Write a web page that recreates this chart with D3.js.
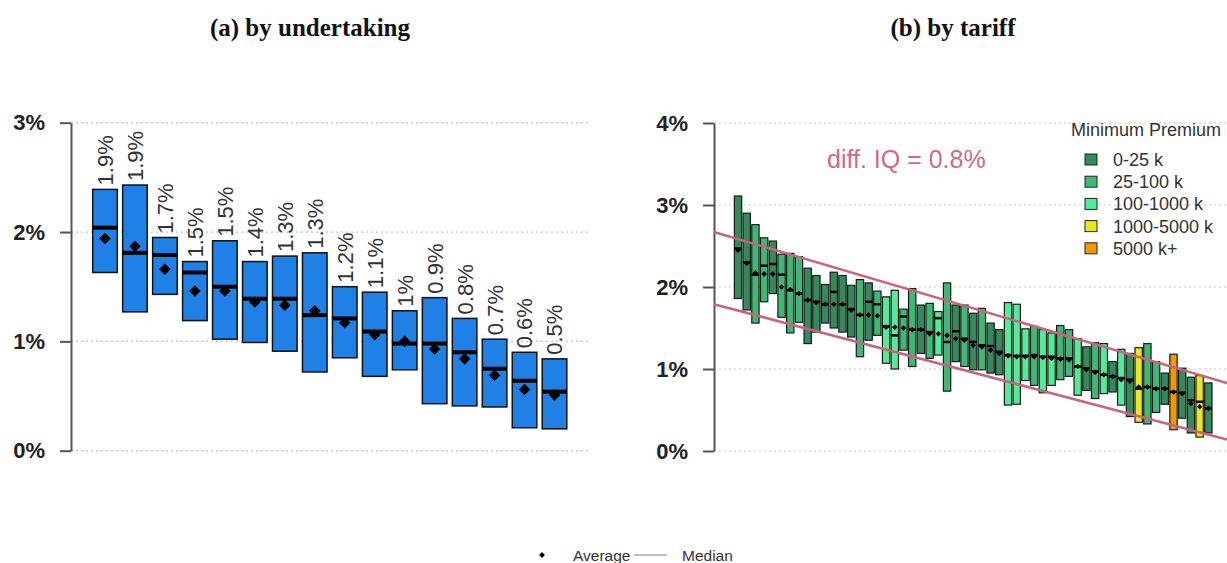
<!DOCTYPE html>
<html>
<head>
<meta charset="utf-8">
<script src="https://cdn.jsdelivr.net/npm/d3@7"></script>
<style>
  html, body { margin: 0; padding: 0; background: #fff; }
  svg { display: block; }
</style>
</head>
<body>
<svg id="chart" width="1227" height="563"></svg>
<script>
// ---- (a) by undertaking: interquartile boxes, medians and averages ----
const undertakings = d3.range(1, 17).map(i => "U" + i);
const undertakingQ3 = [2.39, 2.43, 1.95, 1.73, 1.92, 1.73, 1.78, 1.81, 1.50, 1.45, 1.28, 1.40, 1.21, 1.02, 0.90, 0.84];
const undertakingQ1 = [1.63, 1.27, 1.43, 1.19, 1.02, 0.99, 0.91, 0.72, 0.85, 0.68, 0.74, 0.43, 0.41, 0.40, 0.21, 0.20];
const undertakingMedian = [2.04, 1.81, 1.79, 1.63, 1.50, 1.39, 1.39, 1.24, 1.21, 1.09, 0.98, 0.98, 0.90, 0.75, 0.64, 0.54];
const undertakingMean = [1.94, 1.87, 1.66, 1.46, 1.46, 1.36, 1.33, 1.28, 1.17, 1.06, 1.00, 0.93, 0.84, 0.69, 0.56, 0.51];
const undertakingTicks = [0, 1, 2, 3];

// ---- (b) by tariff: interquartile boxes coloured by minimum premium band ----
const tariffs = d3.range(1, 56).map(i => "T" + i);
const tariffQ3 = [3.11, 2.90, 2.76, 2.60, 2.56, 2.40, 2.41, 2.37, 2.23, 2.14, 2.03, 2.18, 2.14, 2.02, 2.09, 2.05, 1.95, 1.88, 1.96, 1.73, 1.98, 1.78, 1.80, 1.70, 2.05, 1.78, 1.78, 1.68, 1.74, 1.56, 1.48, 1.81, 1.79, 1.49, 1.52, 1.48, 1.44, 1.53, 1.48, 1.37, 1.27, 1.32, 1.31, 1.09, 1.24, 1.19, 1.26, 1.31, 1.09, 0.95, 1.18, 1.01, 0.90, 0.92, 0.83];
const tariffQ1 = [1.86, 1.72, 1.56, 1.82, 1.92, 1.63, 1.44, 1.57, 1.31, 1.45, 1.56, 1.50, 1.45, 1.39, 1.15, 1.35, 1.41, 1.07, 1.00, 1.23, 1.03, 1.19, 1.13, 1.17, 0.73, 1.09, 1.03, 0.99, 0.99, 0.95, 0.93, 0.56, 0.57, 0.86, 0.80, 0.71, 0.80, 0.87, 0.91, 0.68, 0.74, 0.64, 0.70, 0.72, 0.56, 0.42, 0.35, 0.33, 0.47, 0.57, 0.26, 0.40, 0.22, 0.17, 0.22];
const tariffMedian = [2.47, 2.30, 2.15, 2.26, 2.28, 2.15, 1.96, 1.92, 1.84, 1.82, 1.79, 1.94, 1.79, 1.73, 1.66, 1.82, 1.79, 1.52, 1.41, 1.64, 1.48, 1.48, 1.45, 1.62, 1.33, 1.46, 1.37, 1.33, 1.29, 1.28, 1.21, 1.17, 1.16, 1.16, 1.17, 1.15, 1.15, 1.13, 1.13, 1.03, 1.01, 0.97, 0.93, 0.91, 0.89, 0.87, 0.76, 0.78, 0.76, 0.76, 0.72, 0.71, 0.62, 0.60, 0.52];
const tariffMean = [2.45, 2.29, 2.17, 2.16, 2.16, 2.00, 1.97, 1.92, 1.84, 1.81, 1.79, 1.79, 1.79, 1.72, 1.66, 1.66, 1.65, 1.51, 1.51, 1.50, 1.48, 1.48, 1.43, 1.43, 1.41, 1.37, 1.35, 1.29, 1.27, 1.23, 1.19, 1.16, 1.15, 1.15, 1.15, 1.14, 1.13, 1.12, 1.11, 1.03, 0.99, 0.96, 0.93, 0.91, 0.87, 0.85, 0.78, 0.78, 0.76, 0.76, 0.72, 0.70, 0.58, 0.54, 0.52];
const tariffBand = [0, 0, 1, 1, 0, 1, 1, 1, 0, 0, 0, 0, 0, 0, 1, 0, 1, 2, 2, 1, 1, 0, 1, 2, 1, 0, 1, 0, 1, 0, 0, 2, 2, 2, 1, 2, 2, 1, 1, 2, 0, 1, 2, 0, 2, 0, 3, 1, 1, 0, 4, 0, 0, 3, 0];
const premiumBands = ["0-25 k", "25-100 k", "100-1000 k", "1000-5000 k", "5000 k+"];
const premiumColors = ["#338a5b", "#40b775", "#52ec98", "#e8e81c", "#ee9a00"];
const tariffTicks = [0, 1, 2, 3, 4];
// interquartile corridor: values at the left and right ends of the plot
const corridorUpper = [2.67, 0.83];
const corridorLower = [1.79, 0.14];
const corridorLabel = "diff. IQ = 0.8%";

const svg = d3.select("#chart");
const pct = d => d + "%";
const labelFmt = v => (+v.toFixed(1)) + "%";

// titles
svg.append("text").attr("x", 310).attr("y", 36).attr("text-anchor", "middle")
  .style("font", "bold 25px 'Liberation Serif', serif").attr("fill", "#111")
  .text("(a) by undertaking");
svg.append("text").attr("x", 953).attr("y", 36).attr("text-anchor", "middle")
  .style("font", "bold 25px 'Liberation Serif', serif").attr("fill", "#111")
  .text("(b) by tariff");

function drawAxis(g, y, ticks, x0, x1) {
  // dotted horizontal grid
  g.append("g").selectAll("line").data(ticks).join("line")
    .attr("x1", x0).attr("x2", x1)
    .attr("y1", d => y(d)).attr("y2", d => y(d))
    .attr("stroke", "#c4c4c4").attr("stroke-width", 1.2)
    .attr("stroke-dasharray", "2,3");
  const ax = g.append("g").attr("transform", `translate(${x0},0)`)
    .call(d3.axisLeft(y).tickValues(ticks).tickFormat(pct).tickSize(11).tickSizeOuter(0).tickPadding(15));
  ax.select(".domain").attr("stroke", "#555").attr("stroke-width", 2);
  ax.selectAll(".tick line").attr("stroke", "#555").attr("stroke-width", 2);
  ax.selectAll(".tick text").style("font", "bold 22px 'Liberation Sans', Arial, sans-serif").attr("fill", "#222");
}

// ---------------- panel (a) ----------------
const ga = svg.append("g");
const xa = d3.scaleBand().domain(undertakings).range([90, 569.5]).paddingInner(0.18).paddingOuter(0.09);
const ya = d3.scaleLinear().domain([0, 3]).range([450.7, 122.7]);
drawAxis(ga, ya, undertakingTicks, 71, 588);

const aRows = undertakings.map((k, i) => ({
  k, q1: undertakingQ1[i], q3: undertakingQ3[i], med: undertakingMedian[i], mean: undertakingMean[i]
}));
ga.append("g").selectAll("rect").data(aRows).join("rect")
  .attr("x", d => xa(d.k)).attr("width", xa.bandwidth())
  .attr("y", d => ya(d.q3)).attr("height", d => ya(d.q1) - ya(d.q3))
  .attr("fill", "#1f80e6").attr("stroke", "#111").attr("stroke-width", 1.5);
ga.append("g").selectAll("line").data(aRows).join("line")
  .attr("x1", d => xa(d.k)).attr("x2", d => xa(d.k) + xa.bandwidth())
  .attr("y1", d => ya(d.med)).attr("y2", d => ya(d.med))
  .attr("stroke", "#000").attr("stroke-width", 4);
ga.append("g").selectAll("path").data(aRows).join("path")
  .attr("transform", d => `translate(${xa(d.k) + xa.bandwidth() / 2},${ya(d.mean)})`)
  .attr("d", d3.symbol(d3.symbolDiamond2, 85)).attr("fill", "#000");
ga.append("g").selectAll("text").data(aRows).join("text")
  .attr("transform", d => `translate(${xa(d.k) + xa.bandwidth() / 2},${ya(d.q3) - 4}) rotate(-90)`)
  .attr("dy", "0.36em")
  .style("font", "22px 'Liberation Sans', Arial, sans-serif").attr("fill", "#333")
  .text(d => labelFmt(d.mean));

// ---------------- panel (b) ----------------
const gb = svg.append("g");
const xb = d3.scaleBand().domain(tariffs).range([733.65, 1212.7]).paddingInner(0.16).paddingOuter(0.08);
const yb = d3.scaleLinear().domain([0, 4]).range([451, 123]);
const plotLeft = 714, plotRight = 1227;
drawAxis(gb, yb, tariffTicks, plotLeft, plotRight);

const bRows = tariffs.map((k, i) => ({
  k, q1: tariffQ1[i], q3: tariffQ3[i], med: tariffMedian[i], mean: tariffMean[i], band: tariffBand[i]
}));
gb.append("g").selectAll("rect").data(bRows).join("rect")
  .attr("x", d => xb(d.k)).attr("width", xb.bandwidth())
  .attr("y", d => yb(d.q3)).attr("height", d => yb(d.q1) - yb(d.q3))
  .attr("fill", d => premiumColors[d.band]).attr("stroke", "#1a1a1a").attr("stroke-width", 1.2);
gb.append("g").selectAll("line").data(bRows).join("line")
  .attr("x1", d => xb(d.k)).attr("x2", d => xb(d.k) + xb.bandwidth())
  .attr("y1", d => yb(d.med)).attr("y2", d => yb(d.med))
  .attr("stroke", "#000").attr("stroke-width", 2.5);
gb.append("g").selectAll("path").data(bRows).join("path")
  .attr("transform", d => `translate(${xb(d.k) + xb.bandwidth() / 2},${yb(d.mean)})`)
  .attr("d", d3.symbol(d3.symbolDiamond2, 20)).attr("fill", "#000");

// corridor lines
const corridor = d3.line().x(d => d[0]).y(d => yb(d[1]));
[corridorUpper, corridorLower].forEach(v => {
  gb.append("path")
    .attr("d", corridor([[plotLeft, v[0]], [plotRight, v[1]]]))
    .attr("fill", "none").attr("stroke", "#c9647e").attr("stroke-width", 2.5);
});
gb.append("text").attr("x", 827).attr("y", 168)
  .style("font", "25px 'Liberation Sans', Arial, sans-serif").attr("fill", "#cd6c85")
  .text(corridorLabel);

// legend
const lg = gb.append("g");
lg.append("text").attr("x", 1071).attr("y", 136)
  .style("font", "18px 'Liberation Sans', Arial, sans-serif").attr("fill", "#333")
  .text("Minimum Premium");
const rows = lg.selectAll("g.item").data(premiumBands).join("g").attr("class", "item")
  .attr("transform", (d, i) => `translate(0,${159.5 + i * 22.2})`);
rows.append("rect").attr("x", 1085).attr("y", -5.5).attr("width", 12).attr("height", 11)
  .attr("fill", (d, i) => premiumColors[i]).attr("stroke", "#222").attr("stroke-width", 1);
rows.append("text").attr("x", 1113).attr("dy", "0.36em")
  .style("font", "18px 'Liberation Sans', Arial, sans-serif").attr("fill", "#333")
  .text(d => d);

// shared legend at the bottom
const bl = svg.append("g");
bl.append("path").attr("transform", "translate(542,555)")
  .attr("d", d3.symbol(d3.symbolDiamond2, 22)).attr("fill", "#000");
bl.append("text").attr("x", 573).attr("y", 560.5)
  .style("font", "15.5px 'Liberation Sans', Arial, sans-serif").attr("fill", "#333").text("Average");
bl.append("line").attr("x1", 634).attr("x2", 667).attr("y1", 555).attr("y2", 555)
  .attr("stroke", "#a8a8a8").attr("stroke-width", 1.5);
bl.append("text").attr("x", 682).attr("y", 560.5)
  .style("font", "15.5px 'Liberation Sans', Arial, sans-serif").attr("fill", "#333").text("Median");
</script>
</body>
</html>
